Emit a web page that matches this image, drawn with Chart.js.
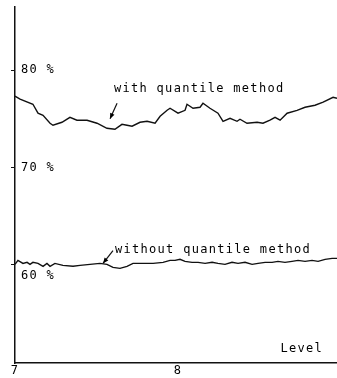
<!DOCTYPE html>
<html>
<head>
<meta charset="utf-8">
<script src="https://cdn.jsdelivr.net/npm/chart.js@4.4.1/dist/chart.umd.min.js"></script>
<style>
  html, body { margin: 0; padding: 0; background: #fff; }
  #wrap { width: 337px; height: 378px; }
</style>
</head>
<body>
<div id="wrap"><canvas id="levelChart"></canvas></div>
<script>
// upper curve: with quantile method
const upperLevels = [7.000, 7.031, 7.110, 7.141, 7.172, 7.215, 7.233, 7.288, 7.337, 7.380, 7.442, 7.503,
    7.564, 7.613, 7.656, 7.687, 7.718, 7.767, 7.810, 7.859, 7.890, 7.933, 7.951, 8.000, 8.043, 8.055,
    8.092, 8.135, 8.153, 8.196, 8.245, 8.276, 8.319, 8.362, 8.380, 8.423, 8.485, 8.521, 8.564, 8.595,
    8.626, 8.669, 8.730, 8.779, 8.840, 8.890, 8.951, 8.975];
const upperRates = [77.33, 77.02, 76.50, 75.58, 75.37, 74.55, 74.34, 74.65, 75.16, 74.86, 74.86, 74.55,
    74.03, 73.93, 74.44, 74.34, 74.24, 74.65, 74.75, 74.55, 75.27, 75.88, 76.09, 75.58, 75.88, 76.50,
    76.09, 76.19, 76.60, 76.09, 75.58, 74.75, 75.06, 74.75, 74.96, 74.55, 74.65, 74.55, 74.86, 75.16,
    74.86, 75.58, 75.88, 76.19, 76.40, 76.71, 77.22, 77.12];

// lower curve: without quantile method
const lowerLevels = [7.000, 7.018, 7.049, 7.074, 7.092, 7.110, 7.141, 7.172, 7.196, 7.215, 7.245, 7.294,
    7.356, 7.399, 7.460, 7.521, 7.564, 7.601, 7.644, 7.687, 7.724, 7.785, 7.847, 7.908, 7.951, 7.982,
    8.012, 8.043, 8.086, 8.123, 8.166, 8.209, 8.245, 8.288, 8.331, 8.368, 8.411, 8.454, 8.491, 8.534,
    8.577, 8.613, 8.656, 8.699, 8.736, 8.779, 8.822, 8.859, 8.902, 8.945, 8.975];
const lowerRates = [60.04, 60.45, 60.14, 60.25, 60.04, 60.25, 60.14, 59.84, 60.14, 59.84, 60.14, 59.94,
    59.84, 59.94, 60.04, 60.14, 60.04, 59.73, 59.63, 59.84, 60.14, 60.14, 60.14, 60.25, 60.45, 60.45,
    60.56, 60.35, 60.25, 60.25, 60.14, 60.25, 60.14, 60.04, 60.25, 60.14, 60.25, 60.04, 60.14, 60.25,
    60.25, 60.35, 60.25, 60.35, 60.45, 60.35, 60.45, 60.35, 60.56, 60.66, 60.66];

const yTickValues = [60, 70, 80];
const xTickValues = [7, 8];

const FONT = '12px "DejaVu Sans Mono"';
const INK = '#111';

function toPoints(xs, ys) {
    return xs.map(function (x, i) { return { x: x, y: ys[i] }; });
}

function arrow(ctx, x1, y1, x2, y2) {
    // line from (x1,y1) with head at (x2,y2)
    const ang = Math.atan2(y2 - y1, x2 - x1);
    ctx.beginPath();
    ctx.moveTo(x1, y1);
    ctx.lineTo(x2, y2);
    ctx.stroke();
    ctx.beginPath();
    ctx.moveTo(x2, y2);
    ctx.lineTo(x2 - 6 * Math.cos(ang - 0.4), y2 - 6 * Math.sin(ang - 0.4));
    ctx.lineTo(x2 - 6 * Math.cos(ang + 0.4), y2 - 6 * Math.sin(ang + 0.4));
    ctx.closePath();
    ctx.fill();
}

const labelPlugin = {
    id: 'labelPlugin',
    afterDraw: function (chart) {
        const ctx = chart.ctx;
        const xs = chart.scales.x;
        const ys = chart.scales.y;
        const area = chart.chartArea;
        ctx.save();
        ctx.font = FONT;
        ctx.fillStyle = '#000';
        ctx.strokeStyle = INK;
        ctx.lineWidth = 1.2;
        ctx.letterSpacing = '1.3px';
        ctx.textBaseline = 'middle';

        // y tick labels, drawn inside the plot
        ctx.textAlign = 'left';
        yTickValues.forEach(function (v) {
            const shift = v === 60 ? 11 : 0;
            ctx.fillText(v + ' %', area.left + 6, ys.getPixelForValue(v) + shift);
        });

        // x tick labels
        ctx.textAlign = 'center';
        ctx.textBaseline = 'top';
        xTickValues.forEach(function (v) {
            ctx.fillText(String(v), xs.getPixelForValue(v), area.bottom + 2);
        });

        // axis title
        ctx.textAlign = 'right';
        ctx.textBaseline = 'middle';
        ctx.fillText('Level', xs.getPixelForValue(8.89), ys.getPixelForValue(51.4));

        // curve annotations
        ctx.textAlign = 'left';
        ctx.fillText('with quantile method', xs.getPixelForValue(7.607), ys.getPixelForValue(78.05));
        ctx.fillText('without quantile method', xs.getPixelForValue(7.613), ys.getPixelForValue(61.48));

        arrow(ctx, xs.getPixelForValue(7.626), ys.getPixelForValue(76.6),
            xs.getPixelForValue(7.583), ys.getPixelForValue(75.0));
        arrow(ctx, xs.getPixelForValue(7.601), ys.getPixelForValue(61.45),
            xs.getPixelForValue(7.540), ys.getPixelForValue(60.15));
        ctx.restore();
    }
};

document.addEventListener('DOMContentLoaded', function () {
    const ctx = document.getElementById('levelChart').getContext('2d');

    new Chart(ctx, {
        type: 'line',
        data: {
            datasets: [{
                label: 'with quantile method',
                data: toPoints(upperLevels, upperRates),
                borderColor: INK,
                borderWidth: 1.4,
                pointRadius: 0,
                tension: 0
            }, {
                label: 'without quantile method',
                data: toPoints(lowerLevels, lowerRates),
                borderColor: INK,
                borderWidth: 1.4,
                pointRadius: 0,
                tension: 0
            }]
        },
        options: {
            responsive: true,
            maintainAspectRatio: false,
            animation: false,
            layout: {
                padding: { left: 11, right: 0, top: 7, bottom: 15 }
            },
            scales: {
                x: {
                    type: 'linear',
                    min: 7,
                    max: 8.975,
                    ticks: { display: false },
                    grid: { drawOnChartArea: false, drawTicks: false },
                    border: { color: INK, width: 1.5 }
                },
                y: {
                    type: 'linear',
                    min: 49.9,
                    max: 86.5,
                    afterBuildTicks: function (scale) {
                        scale.ticks = yTickValues.map(function (v) { return { value: v }; });
                    },
                    ticks: { display: false },
                    grid: { drawOnChartArea: false, drawTicks: true, tickLength: 4, color: INK, lineWidth: 1 },
                    border: { color: INK, width: 1.5 }
                }
            },
            plugins: {
                legend: { display: false },
                tooltip: { enabled: false }
            }
        },
        plugins: [labelPlugin]
    });
});
</script>
</body>
</html>
